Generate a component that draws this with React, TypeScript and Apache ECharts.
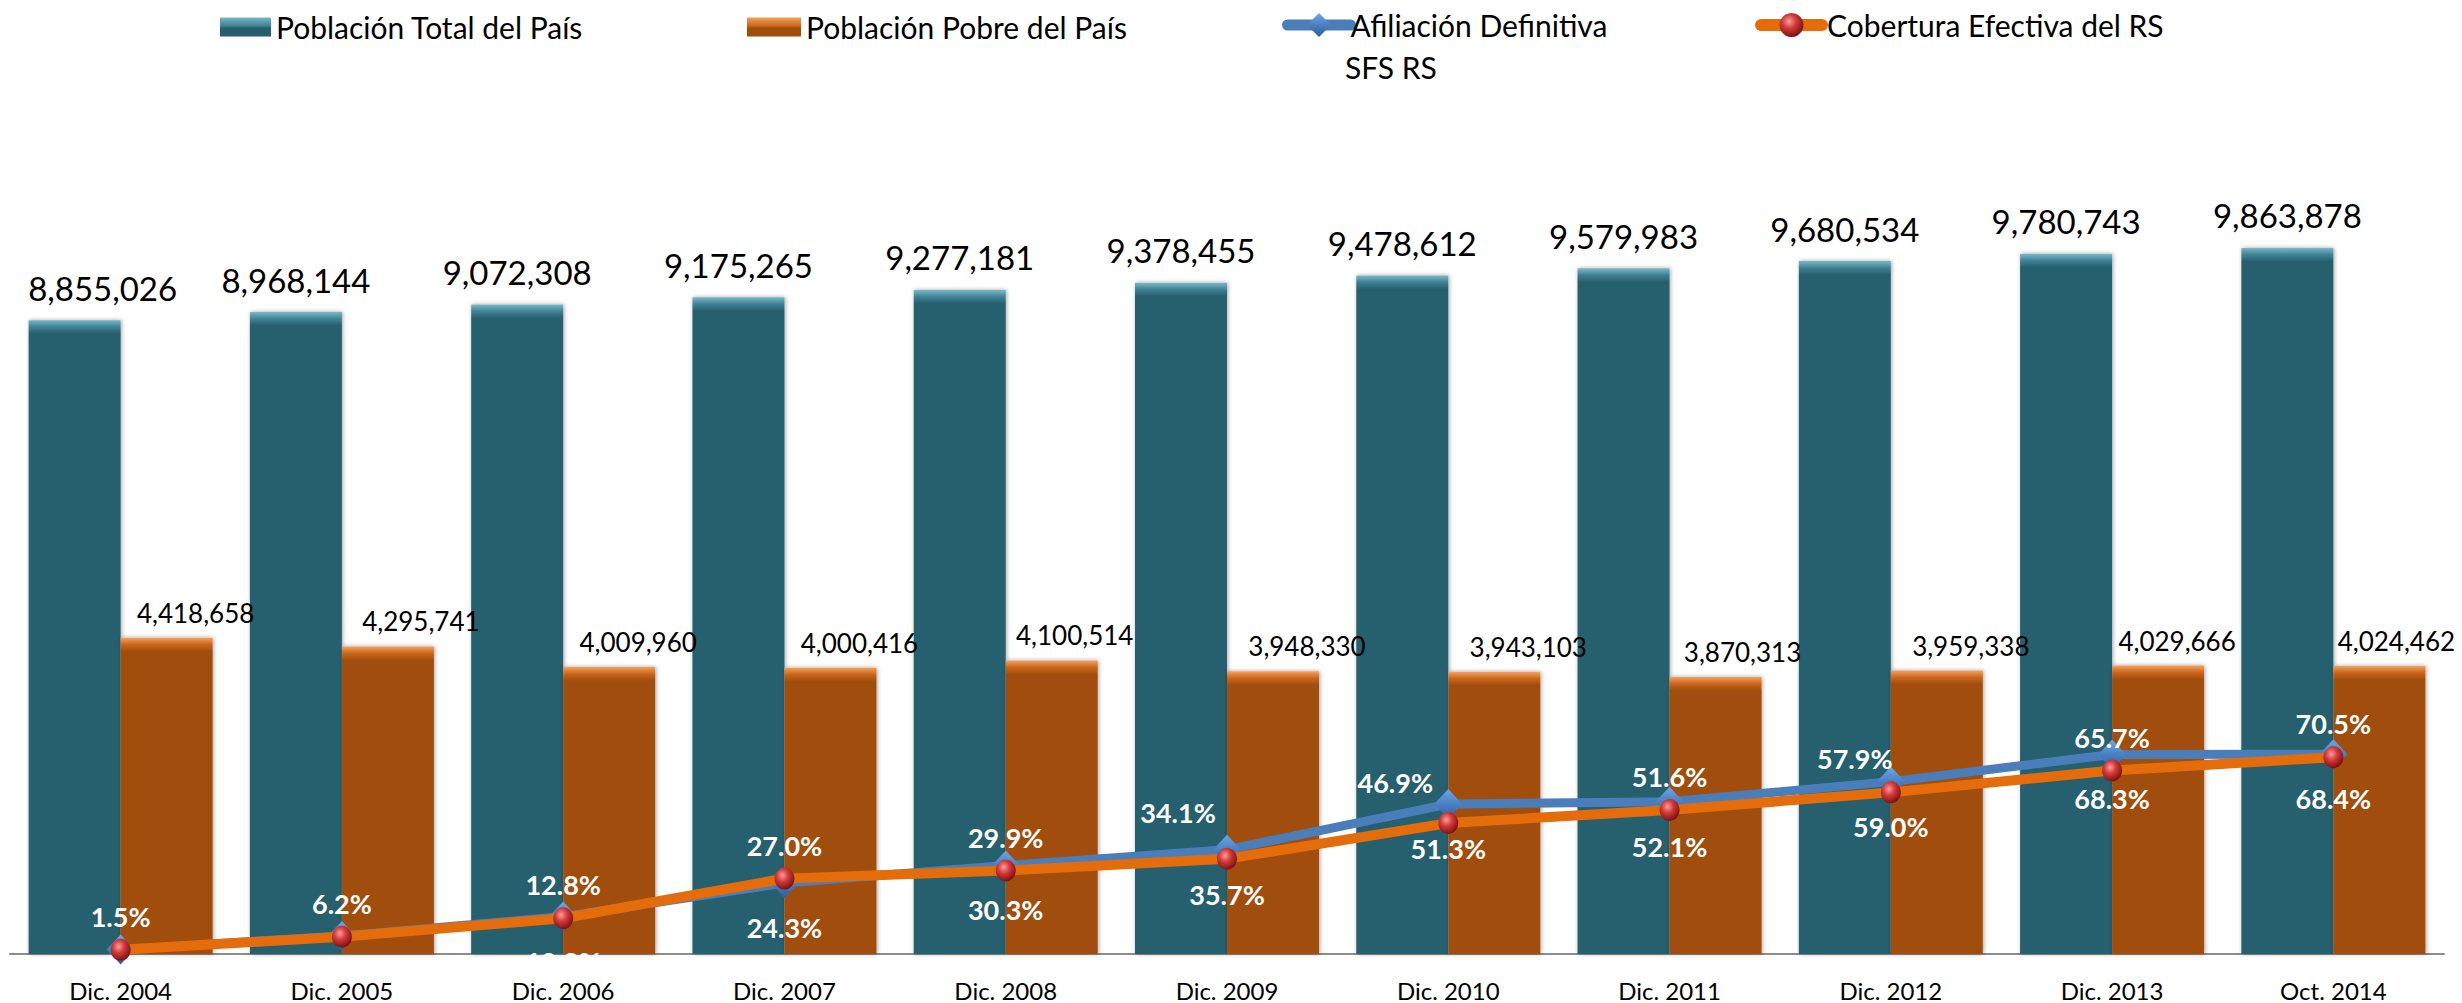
import React, { useEffect, useRef } from "react";
import * as echarts from "echarts";

// ---------------- data ----------------
const categories = [
  "Dic. 2004",
  "Dic. 2005",
  "Dic. 2006",
  "Dic. 2007",
  "Dic. 2008",
  "Dic. 2009",
  "Dic. 2010",
  "Dic. 2011",
  "Dic. 2012",
  "Dic. 2013",
  "Oct. 2014",
];

const poblacionTotal = [
  8855026, 8968144, 9072308, 9175265, 9277181, 9378455, 9478612, 9579983,
  9680534, 9780743, 9863878,
];

const poblacionPobre = [
  4418658, 4295741, 4009960, 4000416, 4100514, 3948330, 3943103, 3870313,
  3959338, 4029666, 4024462,
];

// percentages
const afiliacionDefinitiva = [1.5, 6.2, 12.8, 24.3, 30.3, 35.7, 51.3, 52.1, 59.0, 68.3, 68.4];
const coberturaEfectiva = [1.5, 6.2, 12.8, 27.0, 29.9, 34.1, 46.9, 51.6, 57.9, 65.7, 70.5];

const seriesNames = [
  "Población Total del País",
  "Población Pobre del País",
  "Afiliación Definitiva SFS RS",
  "Cobertura Efectiva del RS",
];

// ---------------- layout / style ----------------
const W = 2462;
const H = 1003;
const GRID = { left: 10, right: 18, top: 95, bottom: 49 };
const PLOT_H = H - GRID.top - GRID.bottom;
const Y_MAX = 12000000;
const COB_MAX = 307.7;
const AFI_MAX = 294;
const FONT = "Lato, 'Open Sans', sans-serif";

// label nudges (layout only), one per category
const cobLabelShift = [
  [0, 0], [0, 0], [0, 0], [0, 0], [0, 0], [-49, -13], [-53, -7], [0, 0], [-36, 0], [0, 0], [0, 0],
];
const pobreLabelShiftX = [29, 33, 29, 29, 23, 34, 34, 27, 34, 19, 17];
const afiLabelHidden = [true, true, false, false, false, false, false, false, false, false, false];

const TEAL = { light: "#79b8c8", mid: "#3f8193", base: "#275e6d" };
const ORANGE = { light: "#f4a15c", mid: "#c8661c", base: "#a04d0a" };

function bevel(v: number, c: { light: string; mid: string; base: string }) {
  const px = (v / Y_MAX) * PLOT_H;
  const s = Math.min(0.5, 14 / px);
  return new echarts.graphic.LinearGradient(0, 0, 0, 1, [
    { offset: 0, color: c.light },
    { offset: s * 0.5, color: c.mid },
    { offset: s, color: c.base },
    { offset: 1, color: c.base },
  ]);
}

function legendGrad(c: { light: string; mid: string; base: string }) {
  return new echarts.graphic.LinearGradient(0, 0, 0, 1, [
    { offset: 0, color: c.light },
    { offset: 0.45, color: c.mid },
    { offset: 0.55, color: c.base },
    { offset: 1, color: c.base },
  ]);
}

const fmtInt = (v: number) => v.toLocaleString("en-US");
const fmtPct = (v: number) => `${v.toFixed(1)}%`;

function buildOption() {
  const ballColor = new echarts.graphic.RadialGradient(0.4, 0.35, 0.65, [
    { offset: 0, color: "#ff9c9c" },
    { offset: 0.45, color: "#d23a3a" },
    { offset: 1, color: "#7d1212" },
  ]);
  const diamondColor = new echarts.graphic.LinearGradient(0, 0, 0, 1, [
    { offset: 0, color: "#6ea6e6" },
    { offset: 0.5, color: "#4a80c4" },
    { offset: 1, color: "#2f5e9a" },
  ]);

  const legendText = { fontSize: 30, fontFamily: FONT, color: "#000" };

  return {
    animation: false,
    backgroundColor: "#ffffff",
    grid: { ...GRID, containLabel: false },
    legend: [
      {
        data: [{ name: seriesNames[0], itemStyle: { color: legendGrad(TEAL) } }],
        left: 220,
        top: 12,
        padding: 0,
        icon: "rect",
        itemWidth: 51,
        itemHeight: 19,
        textStyle: legendText,
        selectedMode: false,
      },
      {
        data: [{ name: seriesNames[1], itemStyle: { color: legendGrad(ORANGE) } }],
        left: 747,
        top: 12,
        padding: 0,
        icon: "rect",
        itemWidth: 54,
        itemHeight: 19,
        textStyle: legendText,
        selectedMode: false,
      },
      {
        data: [
          {
            name: seriesNames[2],
            lineStyle: { width: 11, cap: "round" },
          },
        ],
        left: 1282,
        top: 10,
        padding: 0,
        itemWidth: 63,
        itemHeight: 30,
        textStyle: { ...legendText, padding: [0, 0, 0, -5] },
        formatter: () => "Afiliación Definitiva",
        selectedMode: false,
      },
      {
        data: [
          {
            name: seriesNames[3],
            lineStyle: { width: 12, cap: "round" },
          },
        ],
        left: 1755,
        top: 10,
        padding: 0,
        itemWidth: 61,
        itemHeight: 30,
        textStyle: legendText,
        selectedMode: false,
      },
    ],
    graphic: [
      {
        type: "text",
        left: 1345,
        top: 52,
        style: { text: "SFS RS", font: `30px ${FONT}`, fill: "#000" },
      },
    ],
    xAxis: {
      type: "category",
      data: categories,
      axisLine: { lineStyle: { color: "#8c8c8c", width: 2 } },
      axisTick: { show: false },
      axisLabel: { fontSize: 24, color: "#000", margin: 24, fontFamily: FONT },
    },
    yAxis: [
      { type: "value", min: 0, max: Y_MAX, show: false, splitLine: { show: false } },
      { type: "value", min: 0, max: COB_MAX, show: false, splitLine: { show: false } },
      { type: "value", min: 0, max: AFI_MAX, show: false, splitLine: { show: false } },
    ],
    series: [
      {
        name: seriesNames[0],
        type: "bar",
        yAxisIndex: 0,
        barWidth: 92,
        barGap: "0%",
        itemStyle: {
          color: TEAL.base,
          shadowColor: "rgba(0,0,0,0.35)",
          shadowBlur: 4,
          shadowOffsetX: 1,
        },
        data: poblacionTotal.map((v, i) => ({
          value: v,
          itemStyle: { color: bevel(v, TEAL) },
          label: i === 0 ? { offset: [28, 0] } : undefined,
        })),
        label: {
          show: true,
          position: "top",
          distance: 16,
          fontSize: 33,
          color: "#000",
          fontFamily: FONT,
          formatter: (p: any) => fmtInt(p.value),
        },
        z: 2,
      },
      {
        name: seriesNames[1],
        type: "bar",
        yAxisIndex: 0,
        barWidth: 92,
        barGap: "0%",
        itemStyle: {
          color: ORANGE.base,
          shadowColor: "rgba(0,0,0,0.35)",
          shadowBlur: 4,
          shadowOffsetX: 1,
        },
        data: poblacionPobre.map((v, i) => ({
          value: v,
          itemStyle: { color: bevel(v, ORANGE) },
          label: { offset: [pobreLabelShiftX[i], 0] },
        })),
        label: {
          show: true,
          position: "top",
          distance: 12,
          fontSize: 26,
          color: "#000",
          fontFamily: FONT,
          formatter: (p: any) => fmtInt(p.value),
        },
        z: 2,
      },
      {
        name: seriesNames[2],
        type: "line",
        yAxisIndex: 2,
        symbol: "diamond",
        symbolSize: [28, 30],
        lineStyle: { color: "#4a7ebb", width: 9 },
        itemStyle: { color: diamondColor, borderColor: "#3a6aa8", borderWidth: 0 },
        data: afiliacionDefinitiva.map((v, i) => ({
          value: v,
          label: afiLabelHidden[i] ? { show: false } : undefined,
        })),
        label: {
          show: true,
          position: "bottom",
          distance: 16,
          fontSize: 27,
          fontWeight: "bold",
          color: "#fff",
          fontFamily: FONT,
          formatter: (p: any) => fmtPct(p.value),
        },
        z: 5,
      },
      {
        name: seriesNames[3],
        type: "line",
        yAxisIndex: 1,
        symbol: "circle",
        symbolSize: [20, 22],
        lineStyle: { color: "#e46c0a", width: 10 },
        itemStyle: { color: ballColor },
        data: coberturaEfectiva.map((v, i) => ({
          value: v,
          label: { offset: cobLabelShift[i] },
        })),
        label: {
          show: true,
          position: "top",
          distance: 9,
          fontSize: 27,
          fontWeight: "bold",
          color: "#fff",
          fontFamily: FONT,
          formatter: (p: any) => fmtPct(p.value),
        },
        z: 6,
      },
    ],
  };
}

export default function App() {
  const ref = useRef<HTMLDivElement>(null);

  useEffect(() => {
    document.body.style.margin = "0";
    document.body.style.overflow = "hidden";
    if (!ref.current) return;
    const chart = echarts.init(ref.current, undefined, { renderer: "svg" });
    chart.setOption(buildOption() as any);
    return () => {
      chart.dispose();
    };
  }, []);

  return <div ref={ref} style={{ width: W, height: H, background: "#fff" }} />;
}
